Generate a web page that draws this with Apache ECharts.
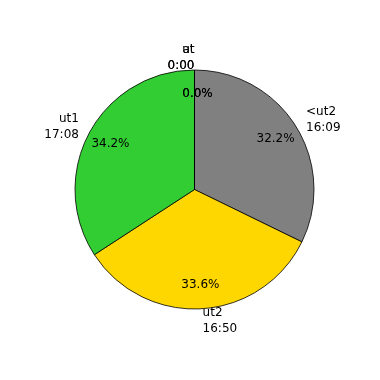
<!DOCTYPE html>
<html>
<head>
<meta charset="utf-8">
<script src="https://cdn.jsdelivr.net/npm/echarts@6/dist/echarts.min.js"></script>
<style>html,body{margin:0;padding:0;background:#fff}#c{width:380px;height:380px}</style>
</head>
<body>
<div id="c"></div>
<script>
// Data (values in minutes)
const categories = ["<ut2", "ut2", "ut1", "at", "ut"];
const values = [969, 1010, 1028, 0, 0];
const colors = ["#808080", "#FFD700", "#32CD32", "#1f77b4", "#ff7f0e"];

const total = values.reduce((a, b) => a + b, 0);
function fmtTime(v) {
  const h = Math.floor(v / 60), m = v % 60;
  return h + ":" + (m < 10 ? "0" : "") + m;
}
const R = 119.5;
const CX = 194.5, CY = 189.5;
const font = { fontFamily: "DejaVu Sans", fontSize: 12, color: "#000" };

const chart = echarts.init(document.getElementById("c"), null, { renderer: "canvas" });
chart.setOption({
  animation: false,
  backgroundColor: "#fff",
  series: [
    {
      type: "pie",
      center: [CX, CY],
      radius: [0, R],
      startAngle: 90,
      clockwise: true,
      avoidLabelOverlap: false,
      minShowLabelAngle: 0,
      labelLayout: p => (values[p.dataIndex] === 0 ? { align: "right", hideOverlap: false } : { hideOverlap: false }),
      itemStyle: { borderColor: "#000", borderWidth: 0.8 },
      emphasis: { disabled: true },
      label: Object.assign({
        show: true,
        position: "outside",
        distanceToLabelLine: 0,
        lineHeight: 16,
        formatter: p => p.name + "\n" + fmtTime(p.value)
      }, font),
      labelLine: { show: false, length: 12, length2: 0 },
      data: categories.map((c, i) => ({ name: c, value: values[i], itemStyle: { color: colors[i] } }))
    },
    {
      type: "pie",
      center: [CX, CY],
      radius: [R * 0.55, R],
      startAngle: 90,
      clockwise: true,
      silent: true,
      avoidLabelOverlap: false,
      minShowLabelAngle: 0,
      labelLayout: p => (values[p.dataIndex] === 0 ? { dx: 3, hideOverlap: false } : { hideOverlap: false }),
      itemStyle: { color: "rgba(0,0,0,0)", borderWidth: 0 },
      label: Object.assign({
        show: true,
        position: "inside",
        formatter: p => (p.value / total * 100).toFixed(1) + "%"
      }, font),
      labelLine: { show: false },
      data: categories.map((c, i) => ({ name: c, value: values[i] }))
    }
  ]
});
</script>
</body>
</html>
